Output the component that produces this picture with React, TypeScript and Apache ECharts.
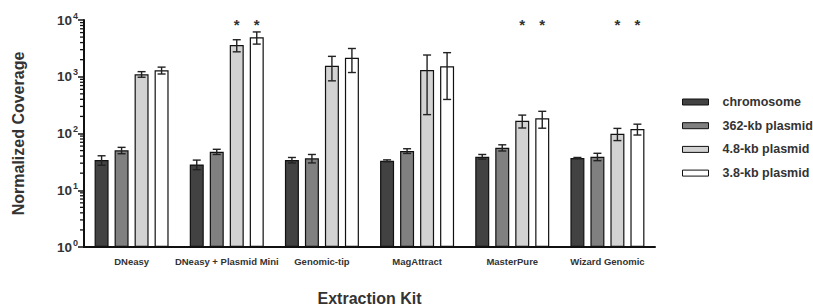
import React, { useEffect, useRef } from "react";
import * as echarts from "echarts";

const categories = [
  "DNeasy",
  "DNeasy + Plasmid Mini",
  "Genomic-tip",
  "MagAttract",
  "MasterPure",
  "Wizard Genomic",
];
const seriesNames = ["chromosome", "362-kb plasmid", "4.8-kb plasmid", "3.8-kb plasmid"];

const chromosome = [34, 28.5, 34, 33, 39, 37];
const chromosomeSd = [6.5, 5.5, 3.8, 1.3, 3.7, 0.8];
const plasmid362 = [50.5, 47.7, 36.5, 49.2, 56.2, 39];
const plasmid362Sd = [6.5, 5, 6.2, 4.7, 7, 5.8];
const plasmid48 = [1105, 3620, 1567, 1315, 168, 99];
const plasmid48Sd = [125, 870, 720, 1100, 43, 24];
const plasmid38 = [1298, 4960, 2167, 1528, 185, 120];
const plasmid38Sd = [180, 1200, 980, 1130, 61, 26];

const significant48 = [false, true, false, false, true, true];
const significant38 = [false, true, false, false, true, true];
const starLevel = 9200;

const yTicks = [1, 10, 100, 1000, 10000];

const colors = ["#424242", "#808080", "#d2d2d2", "#ffffff"];
const FONT = "Liberation Sans, Arial, Helvetica, sans-serif";

export default function App() {
  const ref = useRef<HTMLDivElement>(null);

  useEffect(() => {
    if (!ref.current) return;
    const chart = echarts.init(ref.current, undefined, { renderer: "svg" });

    const values = [chromosome, plasmid362, plasmid48, plasmid38];
    const sds = [chromosomeSd, plasmid362Sd, plasmid48Sd, plasmid38Sd];
    const barWidth = 14;
    const barGapPx = 6;
    const offsetOf = (i: number) => (i - 1.5) * (barWidth + barGapPx);

    const barSeries = seriesNames.map((name, i) => ({
      name,
      type: "bar",
      data: values[i],
      barWidth,
      barGap: `${(barGapPx / barWidth) * 100}%`,
      itemStyle: { color: colors[i], borderColor: "#111", borderWidth: 1.2 },
      z: 2,
    }));

    const errSeries = seriesNames.map((name, i) => ({
      name: name + " err",
      type: "custom",
      z: 5,
      clip: false,
      data: values[i].map((v, c) => [c, v - sds[i][c], v + sds[i][c]]),
      renderItem: (params: any, api: any) => {
        const c = api.value(0);
        const lo = api.coord([c, api.value(1)]);
        const hi = api.coord([c, api.value(2)]);
        const x = lo[0] + offsetOf(i);
        const cap = 4;
        const st = { stroke: "#222", lineWidth: 1.4 };
        return {
          type: "group",
          children: [
            { type: "line", shape: { x1: x, y1: lo[1], x2: x, y2: hi[1] }, style: st },
            { type: "line", shape: { x1: x - cap, y1: lo[1], x2: x + cap, y2: lo[1] }, style: st },
            { type: "line", shape: { x1: x - cap, y1: hi[1], x2: x + cap, y2: hi[1] }, style: st },
          ],
        };
      },
    }));

    const starData: number[][] = [];
    significant48.forEach((s, c) => { if (s) starData.push([c, starLevel, 2]); });
    significant38.forEach((s, c) => { if (s) starData.push([c, starLevel, 3]); });

    const starSeries = {
      name: "stars",
      type: "custom",
      clip: false,
      z: 6,
      data: starData,
      renderItem: (params: any, api: any) => {
        const p = api.coord([api.value(0), api.value(1)]);
        return {
          type: "text",
          x: p[0] + offsetOf(api.value(2)),
          y: p[1] + 2,
          style: {
            text: "*",
            fontSize: 15,
            fontWeight: "bold",
            fontFamily: FONT,
            fill: "#333",
            align: "center",
            verticalAlign: "middle",
          },
        };
      },
    };

    const minorValues: number[] = [];
    for (let d = 0; d < yTicks.length - 1; d++) {
      for (let m = 2; m <= 9; m++) minorValues.push(m * yTicks[d]);
    }
    const minorSeries = {
      name: "minor",
      type: "custom",
      clip: false,
      z: 6,
      data: minorValues.map((v) => [0, v]),
      renderItem: (params: any, api: any) => {
        const p = api.coord([0, api.value(1)]);
        const x0 = p[0] - api.size([1, 0])[0] / 2;
        return {
          type: "line",
          shape: { x1: x0 - 4, y1: p[1], x2: x0, y2: p[1] },
          style: { stroke: "#111", lineWidth: 1.3 },
        };
      },
    };

    chart.setOption({
      animation: false,
      backgroundColor: "#ffffff",
      grid: {
        left: 84,
        right: 158,
        top: 20,
        bottom: 59,
        containLabel: false,
        outerBoundsMode: "none",
      },
      legend: {
        data: seriesNames,
        orient: "vertical",
        left: 682,
        top: 95,
        width: 131,
        padding: 0,
        icon: "rect",
        itemWidth: 26,
        itemHeight: 6,
        itemGap: 9.7,
        itemStyle: { borderColor: "#111", borderWidth: 1 },
        textStyle: {
          fontSize: 12.5,
          fontWeight: "bold",
          fontFamily: FONT,
          color: "#333",
          padding: [0, 0, 0, 9],
          lineHeight: 14,
          width: 110,
          overflow: "none",
        },
      },
      xAxis: {
        type: "category",
        data: categories,
        name: "Extraction Kit",
        nameLocation: "middle",
        nameGap: 43,
        nameTextStyle: { fontSize: 16, fontWeight: "bold", fontFamily: FONT, color: "#333" },
        axisLine: { lineStyle: { color: "#111", width: 2 } },
        axisTick: { show: false },
        axisLabel: {
          interval: 0,
          fontSize: 9.5,
          fontWeight: "bold",
          fontFamily: FONT,
          color: "#333",
          margin: 9,
        },
      },
      yAxis: {
        type: "log",
        logBase: 10,
        min: 1,
        max: 10000,
        name: "Normalized Coverage",
        nameLocation: "middle",
        nameRotate: 90,
        nameGap: 58,
        nameTextStyle: { fontSize: 16, fontWeight: "bold", fontFamily: FONT, color: "#333" },
        axisLine: { show: true, lineStyle: { color: "#111", width: 2 } },
        axisTick: { show: true, length: 6, lineStyle: { color: "#111", width: 1.5 } },
        splitLine: { show: false },
        axisLabel: {
          margin: 6,
          formatter: (v: number) => `{b|10}{s|${Math.round(Math.log10(v))}}`,
          rich: {
            b: { fontSize: 13.5, fontWeight: "bold", fontFamily: FONT, color: "#333" },
            s: { fontSize: 9, fontWeight: "bold", fontFamily: FONT, color: "#333", verticalAlign: "top", padding: [0, 0, 9, 1] },
          },
        },
      },
      series: [...barSeries, ...errSeries, starSeries, minorSeries],
    });

    return () => chart.dispose();
  }, []);

  return (
    <div
      ref={ref}
      style={{ position: "fixed", left: 0, top: 0, width: 813, height: 306, background: "#fff" }}
    />
  );
}
